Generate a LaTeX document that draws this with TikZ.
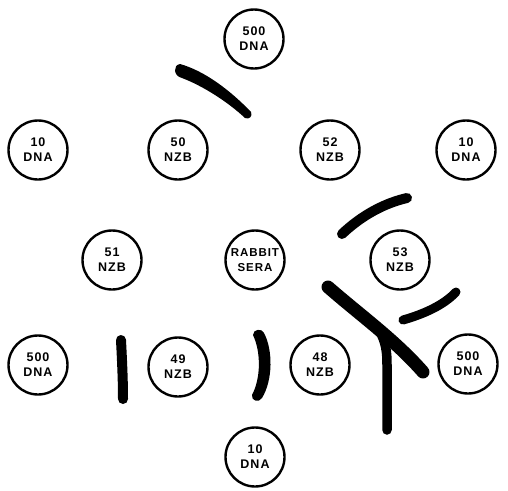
\documentclass[tikz,border=0pt]{standalone}
\usepackage{fontspec}
\newfontfamily\wellfont[LetterSpace=8]{Liberation Sans}
\begin{document}
\begin{tikzpicture}[x=1pt,y=-1pt,
  well/.style={circle, draw=black, line width=2.4pt, minimum size=59pt,
    inner sep=0pt, align=center,
    font=\wellfont\bfseries\fontsize{12.5}{15}\selectfont},
  band/.style={draw=black, line cap=round, line join=round},
  blob/.style={fill=black, draw=none}]
\useasboundingbox (0,0) rectangle (508,490);

% antigen and serum wells
\node[well] (t500) at (254,39)  {500\\DNA};
\node[well] (l10)  at (38,150)  {10\\DNA};
\node[well] (n50)  at (178,150) {50\\NZB};
\node[well] (n52)  at (330,150) {52\\NZB};
\node[well] (r10)  at (466,150) {10\\DNA};
\node[well] (n51)  at (112,260) {51\\NZB};
\node[well, font=\wellfont\bfseries\fontsize{11.5}{15}\selectfont] (rs) at (255,260) {RABBIT\\SERA};
\node[well] (n53)  at (400,260) {53\\NZB};
\node[well] (l500) at (38,365)  {500\\DNA};
\node[well] (n49)  at (178,367) {49\\NZB};
\node[well] (n48)  at (320,365) {48\\NZB};
\node[well] (r500) at (468,364) {500\\DNA};
\node[well] (b10)  at (255,457) {10\\DNA};

% precipitin bands
% tapered band between the top 500 DNA well and well 50
\fill[blob] (180,64) .. controls (205,71) and (231,91) .. (251,112)
  .. controls (253,116) and (249,120) .. (245,118)
  .. controls (228,102) and (203,86) .. (182,78)
  .. controls (173,76) and (173,65) .. (180,64) -- cycle;

% arc above well 53
\draw[band, line width=10pt] (342,234) .. controls (362,215) and (385,203) .. (407,198);

% long diagonal band and its stem
\draw[band, line width=13pt] (328,287) .. controls (360,315) and (395,340) .. (423,372);
\draw[band, line width=9.5pt] (379,330) .. controls (386,342) and (387,352) .. (387,365)
  -- (387,430);

% arc between well 53 and the right 500 DNA well
\draw[band, line width=9pt] (403,320) .. controls (424,314) and (444,305) .. (456,292);

% straight band left of well 49
\draw[band, line width=10pt] (121,340) .. controls (122,360) and (123,380) .. (123,399);

% curved band right of well 49
\fill[blob] (253,335) .. controls (261,352) and (261,378) .. (252,395)
  .. controls (251,401) and (259,403) .. (262,398)
  .. controls (273,380) and (273,350) .. (264,333)
  .. controls (262,328) and (253,329) .. (253,335) -- cycle;
\end{tikzpicture}
\end{document}
